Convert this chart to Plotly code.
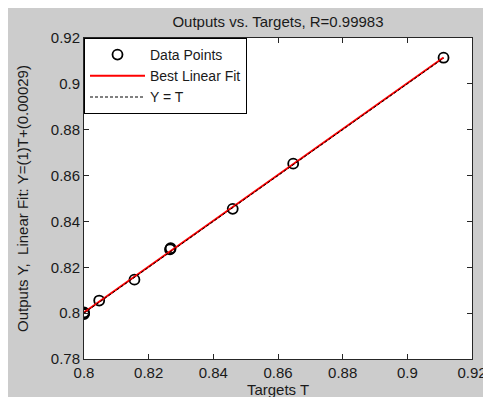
import plotly.graph_objects as go

# Data
targets = [0.8, 0.8, 0.8, 0.8047, 0.8156, 0.8266, 0.8268, 0.846, 0.8647, 0.9112]
outputs = [0.7996, 0.8, 0.8003, 0.8055, 0.8146, 0.8278, 0.8283, 0.8455, 0.8652, 0.9114]
fit_slope = 1.0
fit_intercept = 0.00029
x_ticks = [0.8, 0.82, 0.84, 0.86, 0.88, 0.9, 0.92]
x_ticktext = ["0.8", "0.82", "0.84", "0.86", "0.88", "0.9", "0.92"]
y_ticks = [0.78, 0.8, 0.82, 0.84, 0.86, 0.88, 0.9, 0.92]
y_ticktext = ["0.78", "0.8", "0.82", "0.84", "0.86", "0.88", "0.9", "0.92"]

tmin, tmax = min(targets), max(targets)
line_x = [tmin, tmax]
fit_y = [fit_slope * t + fit_intercept for t in line_x]

FONT = "Liberation Sans, Arial, sans-serif"
TXT = "#1a1a1a"

fig = go.Figure()
fig.add_trace(go.Scatter(
    x=targets, y=outputs, mode="markers", name="Data Points",
    marker=dict(symbol="circle-open", size=10, color="black", line=dict(width=1.8, color="black")),
))
fig.add_trace(go.Scatter(
    x=line_x, y=fit_y, mode="lines", name="Best Linear Fit",
    line=dict(color="#ff0000", width=2),
))
fig.add_trace(go.Scatter(
    x=line_x, y=line_x, mode="lines", name="Y = T",
    line=dict(color="black", width=1, dash="3px,2px"),
))

axis_common = dict(
    showgrid=False, zeroline=False, showline=True, linecolor="#262626", linewidth=1,
    mirror="ticks", ticks="inside", ticklen=5, tickcolor="#262626",
    tickfont=dict(family=FONT, size=15, color=TXT),
)

fig.update_layout(
    width=491, height=397,
    margin=dict(l=76, r=18, t=30, b=34),
    paper_bgcolor="#cccccc", plot_bgcolor="white",
    font=dict(family=FONT, size=15, color=TXT),
    title=dict(text="Outputs vs. Targets, R=0.99983", x=0.5, xref="paper",
               y=1 - 8 / 397, yref="container", yanchor="top",
               font=dict(family=FONT, size=15, color=TXT)),
    xaxis=dict(range=[0.8, 0.92], tickvals=x_ticks, ticktext=x_ticktext,
               title=dict(text="Targets T", standoff=1, font=dict(family=FONT, size=15, color=TXT)),
               **axis_common),
    yaxis=dict(range=[0.78, 0.92], tickvals=y_ticks, ticktext=y_ticktext,
               title=dict(text="Outputs Y,  Linear Fit: Y=(1)T+(0.00029)", standoff=18,
                          font=dict(family=FONT, size=15, color=TXT)),
               **axis_common),
    showlegend=True,
    legend=dict(x=0.0, y=1.0, xanchor="left", yanchor="top",
                bgcolor="white", bordercolor="black", borderwidth=1,
                font=dict(family=FONT, size=14, color=TXT),
                itemwidth=55, tracegroupgap=0),
)

fig.write_html("out.html")
